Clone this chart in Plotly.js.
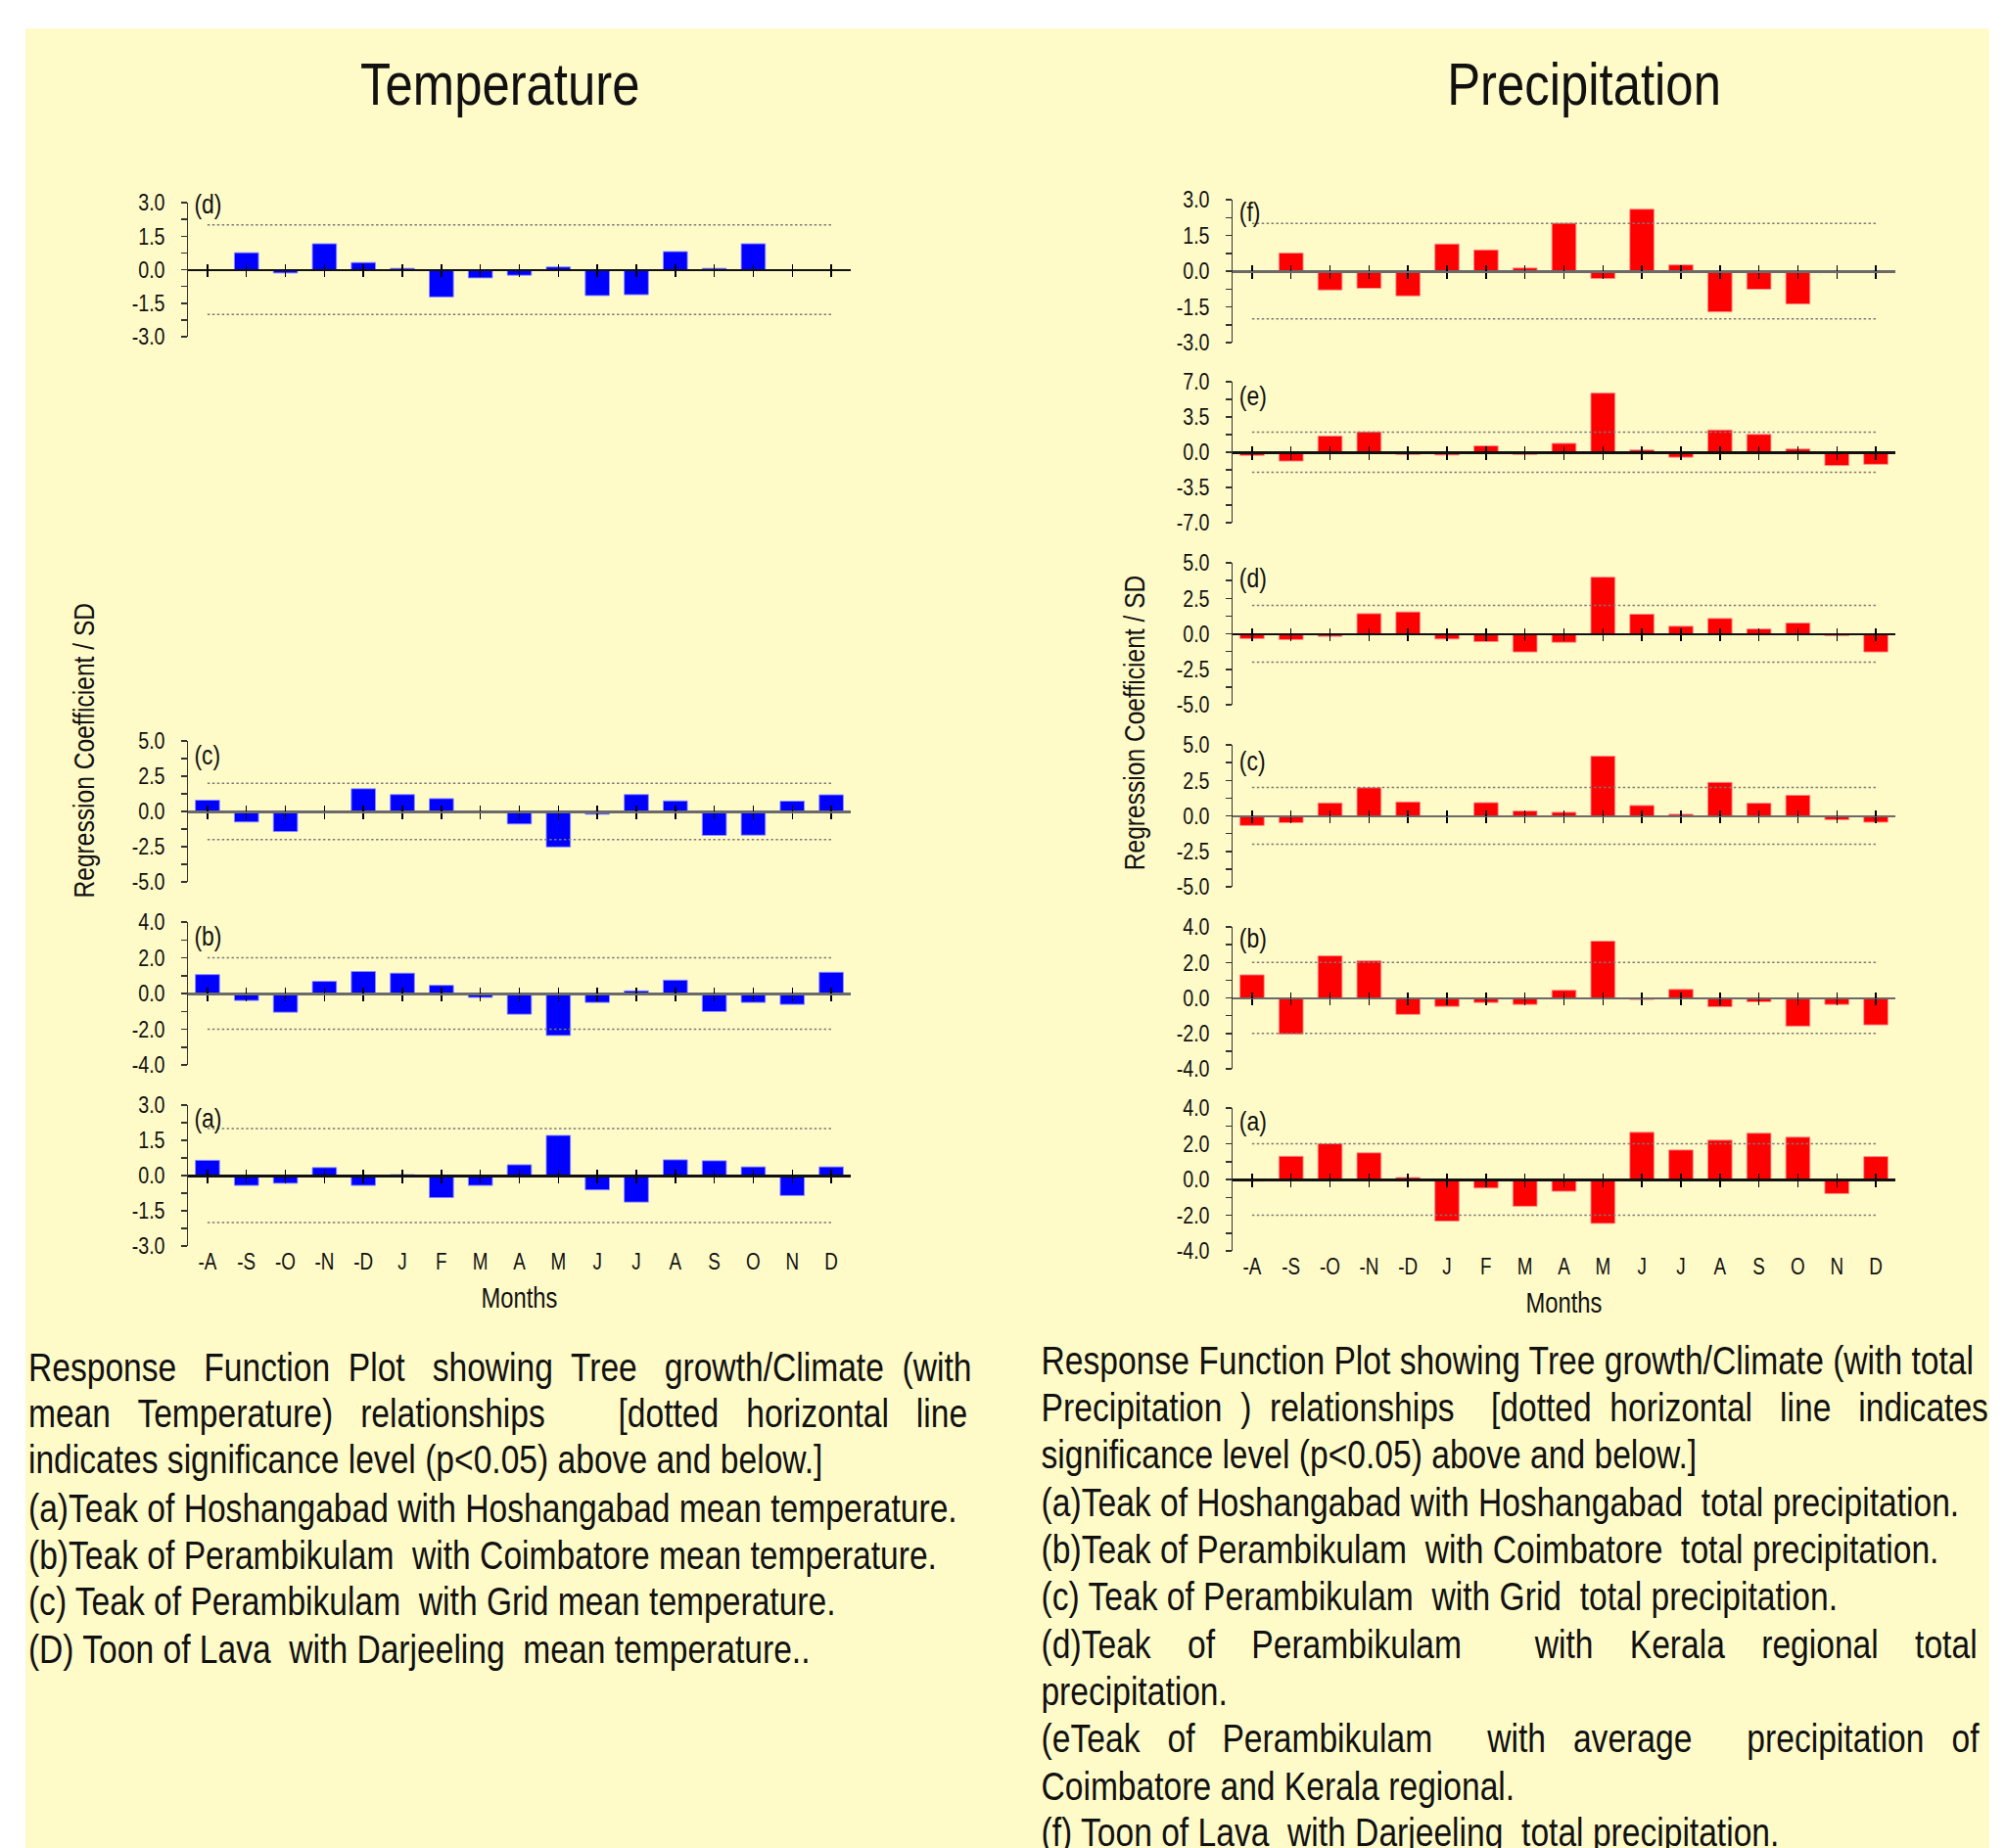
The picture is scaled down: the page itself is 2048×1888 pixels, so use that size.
<!DOCTYPE html>
<html><head><meta charset="utf-8">
<script src="https://cdn.plot.ly/plotly-3.0.1.min.js"></script>
<style>
html,body{margin:0;padding:0;background:#fff;overflow:hidden}
#wrap{width:2048px;height:1888px;overflow:hidden;position:relative}
#chart{height:1888px;transform-origin:0 0}
</style>
</head><body>
<div id="wrap"><div id="chart"></div></div>
<script>
// ---------------- DATA ----------------
const months = ["-A","-S","-O","-N","-D","J","F","M","A","M","J","J","A","S","O","N","D"];
const SIG = 2.0; // significance level (p<0.05)

// Temperature response functions
const tempD = [null, 0.76, -0.15, 1.16, 0.32, 0.06, -1.22, -0.37, -0.25, 0.12, -1.16, -1.12, 0.81, 0.06, 1.16, null, null];
const tempC = [0.80, -0.75, -1.43, -0.10, 1.61, 1.20, 0.91, -0.07, -0.89, -2.52, -0.20, 1.20, 0.75, -1.70, -1.68, 0.73, 1.18];
const tempB = [1.06, -0.39, -1.05, 0.68, 1.23, 1.14, 0.46, -0.22, -1.16, -2.35, -0.50, 0.15, 0.75, -1.01, -0.50, -0.61, 1.19];
const tempA = [0.65, -0.42, -0.33, 0.34, -0.42, 0.04, -0.94, -0.42, 0.46, 1.71, -0.61, -1.13, 0.67, 0.63, 0.37, -0.85, 0.37];

// Precipitation response functions
const precF = [null, 0.76, -0.79, -0.72, -1.04, 1.14, 0.89, 0.13, 2.01, -0.31, 2.60, 0.26, -1.71, -0.76, -1.38, null, null];
const precE = [-0.32, -0.88, 1.61, 2.02, -0.22, -0.28, 0.63, -0.22, 0.88, 5.87, 0.22, -0.50, 2.21, 1.77, 0.32, -1.32, -1.20];
const precD = [-0.34, -0.41, -0.18, 1.42, 1.54, -0.37, -0.55, -1.28, -0.60, 3.99, 1.38, 0.53, 1.08, 0.34, 0.76, -0.14, -1.28];
const precC = [-0.68, -0.48, 0.91, 1.98, 0.98, -0.05, 0.93, 0.34, 0.25, 4.20, 0.73, 0.11, 2.36, 0.89, 1.45, -0.27, -0.45];
const precB = [1.30, -2.04, 2.37, 2.09, -0.93, -0.48, -0.26, -0.37, 0.43, 3.20, -0.09, 0.48, -0.50, -0.22, -1.59, -0.37, -1.52];
const precA = [-0.09, 1.30, 2.00, 1.49, 0.11, -2.33, -0.48, -1.50, -0.66, -2.46, 2.64, 1.65, 2.20, 2.59, 2.37, -0.79, 1.28];

const tempCaption = [
  "Response   Function  Plot   showing  Tree   growth/Climate  (with",
  "mean   Temperature)   relationships        [dotted   horizontal   line",
  "indicates significance level (p<0.05) above and below.]",
  "(a)Teak of Hoshangabad with Hoshangabad mean temperature.",
  "(b)Teak of Perambikulam  with Coimbatore mean temperature.",
  "(c) Teak of Perambikulam  with Grid mean temperature.",
  "(D) Toon of Lava  with Darjeeling  mean temperature.."
];
const precCaption = [
  "Response Function Plot showing Tree growth/Climate (with total",
  "Precipitation  )  relationships    [dotted  horizontal   line   indicates",
  "significance level (p<0.05) above and below.]",
  "(a)Teak of Hoshangabad with Hoshangabad  total precipitation.",
  "(b)Teak of Perambikulam  with Coimbatore  total precipitation.",
  "(c) Teak of Perambikulam  with Grid  total precipitation.",
  "(d)Teak    of    Perambikulam        with    Kerala    regional    total",
  "precipitation.",
  "(eTeak   of   Perambikulam      with   average      precipitation   of",
  "Coimbatore and Kerala regional.",
  "(f) Toon of Lava  with Darjeeling  total precipitation."
];
const yTitle = 'Regression Coefficient / SD';

// ---------------- LAYOUT ----------------
const W = 2048, H = 1888;
const SX = 0.82;                 // horizontal condensing (narrow type look)
const W_IN = Math.round(W / SX); // plot width before condensing
const SXE = W / W_IN;
const chartDiv = document.getElementById('chart');
chartDiv.style.width = W_IN + 'px';
chartDiv.style.transform = 'scaleX(' + SXE + ')';

const FONT = '"Liberation Sans", Arial, Helvetica, sans-serif';
const BG = '#FFFBC8';
const xIdx = months.map((m, i) => i);

const TEMP_X = [192, 869], PREC_X = [1259, 1936];
const panels = [
  {vals: tempD, lim: 3, tag: "(d)", xr: TEMP_X, top: 207, bot: 344, dy: 2,  zc: '#111', col: '#0000FF', edge: '#9090FF'},
  {vals: tempC, lim: 5, tag: "(c)", xr: TEMP_X, top: 757, bot: 901, dy: 14, zc: '#6a6a6a', col: '#0000FF', edge: '#9090FF'},
  {vals: tempB, lim: 4, tag: "(b)", xr: TEMP_X, top: 942, bot: 1088, dy: 14, zc: '#6a6a6a', col: '#0000FF', edge: '#9090FF'},
  {vals: tempA, lim: 3, tag: "(a)", xr: TEMP_X, top: 1129, bot: 1273, dy: 13, zc: '#111', col: '#0000FF', edge: '#9090FF', bottom: true},
  {vals: precF, lim: 3, tag: "(f)", xr: PREC_X, top: 204, bot: 350, dy: 12, zc: '#6a6a6a', col: '#FF0000', edge: '#FF9090'},
  {vals: precE, lim: 7, tag: "(e)", xr: PREC_X, top: 390, bot: 534, dy: 14, zc: '#111', col: '#FF0000', edge: '#FF9090'},
  {vals: precD, lim: 5, tag: "(d)", xr: PREC_X, top: 575, bot: 720, dy: 15, zc: '#111', col: '#FF0000', edge: '#FF9090'},
  {vals: precC, lim: 5, tag: "(c)", xr: PREC_X, top: 761, bot: 906, dy: 16, zc: '#6a6a6a', col: '#FF0000', edge: '#FF9090'},
  {vals: precB, lim: 4, tag: "(b)", xr: PREC_X, top: 947, bot: 1092, dy: 12, zc: '#6a6a6a', col: '#FF0000', edge: '#FF9090'},
  {vals: precA, lim: 4, tag: "(a)", xr: PREC_X, top: 1132, bot: 1278, dy: 13, zc: '#111', col: '#FF0000', edge: '#FF9090', bottom: true}
];

function axName(letter, n) { return { id: letter + (n === 1 ? '' : n), key: letter + 'axis' + (n === 1 ? '' : n) }; }
const px = v => v / W, py = v => 1 - v / H;

const data = [];
const layout = {
  width: W_IN, height: H, autosize: false,
  margin: {l: 0, r: 0, t: 0, b: 0, pad: 0},
  paper_bgcolor: '#FFFFFF', plot_bgcolor: 'rgba(0,0,0,0)',
  showlegend: false, hovermode: false,
  font: {family: FONT, color: '#111', size: 22},
  shapes: [{type: 'rect', xref: 'paper', yref: 'paper', x0: px(26), x1: px(2032), y0: 0, y1: py(29),
            fillcolor: BG, line: {width: 0}, layer: 'below'}],
  annotations: []
};

panels.forEach((p, i) => {
  const xa = axName('x', 3 * i + 1), xb = axName('x', 3 * i + 2), xc = axName('x', 3 * i + 3);
  const ya = axName('y', i + 1);
  const dom = [px(p.xr[0]), px(p.xr[1])];
  const ydom = [py(p.bot), py(p.top)];
  const mid = (ydom[0] + ydom[1]) / 2;
  const xr = [-0.5, months.length - 0.5];

  layout[ya.key] = {
    domain: ydom, anchor: xa.id, range: [-p.lim, p.lim], fixedrange: true,
    tickvals: [-p.lim, -p.lim / 2, 0, p.lim / 2, p.lim],
    ticktext: [-p.lim, -p.lim / 2, 0, p.lim / 2, p.lim].map(v => v.toFixed(1)),
    ticks: 'outside', ticklen: 7, tickwidth: 1.5, tickcolor: '#333',
    minor: {tickvals: [-0.75 * p.lim, -0.25 * p.lim, 0.25 * p.lim, 0.75 * p.lim], ticks: 'outside', ticklen: 7, tickwidth: 1.5, tickcolor: '#333'},
    showline: true, linecolor: '#333', linewidth: 1.8, showgrid: false, zeroline: false,
    tickfont: {family: FONT, size: 24, color: '#111'}, ticklabelstandoff: 15
  };
  layout[xa.key] = {
    domain: dom, anchor: ya.id, range: xr, fixedrange: true,
    tickvals: xIdx, ticktext: months, ticks: '', showline: false, showgrid: false, zeroline: false,
    showticklabels: !!p.bottom, tickfont: {family: FONT, size: 23, color: '#111'}
  };
  if (p.bottom) layout[xa.key].title = {text: 'Months', font: {family: FONT, size: 29, color: '#111'}, standoff: 14};
  layout[xb.key] = {
    overlaying: xa.id, anchor: 'free', position: mid, side: 'bottom', range: xr, fixedrange: true,
    tickvals: xIdx, ticks: 'outside', ticklen: 6, tickwidth: 1.8, tickcolor: '#000',
    showline: true, linecolor: p.zc, linewidth: 2.5, showgrid: false, zeroline: false, showticklabels: false
  };
  layout[xc.key] = {
    overlaying: xa.id, anchor: 'free', position: mid, side: 'bottom', range: xr, fixedrange: true,
    tickvals: xIdx, ticks: 'inside', ticklen: 6, tickwidth: 1.8, tickcolor: '#000',
    showline: false, showgrid: false, zeroline: false, showticklabels: false
  };

  data.push({type: 'bar', x: xIdx, y: p.vals, xaxis: xa.id, yaxis: ya.id, width: 0.62,
             marker: {color: p.col, line: {color: p.edge, width: 1}}});
  const ends = [xIdx[0], xIdx[xIdx.length - 1]];
  data.push({type: 'scatter', mode: 'lines', x: ends, y: [SIG, SIG], xaxis: xb.id, yaxis: ya.id,
             line: {color: '#7a7a7a', width: 1.5, dash: 'dot'}});
  data.push({type: 'scatter', mode: 'lines', x: ends, y: [-SIG, -SIG], xaxis: xc.id, yaxis: ya.id,
             line: {color: '#7a7a7a', width: 1.5, dash: 'dot'}});

  layout.annotations.push({text: p.tag, xref: 'paper', yref: 'paper', x: px(p.xr[0] + 5), y: py(p.top + p.dy),
    xanchor: 'left', yanchor: 'middle', showarrow: false, font: {family: FONT, size: 28, color: '#111'}});
});

// Titles
layout.annotations.push({text: 'Temperature', xref: 'paper', yref: 'paper', x: px(511), y: py(85),
  xanchor: 'center', yanchor: 'middle', showarrow: false, font: {family: FONT, size: 62, color: '#111'}});
layout.annotations.push({text: 'Precipitation', xref: 'paper', yref: 'paper', x: px(1618), y: py(85),
  xanchor: 'center', yanchor: 'middle', showarrow: false, font: {family: FONT, size: 62, color: '#111'}});
// Y axis titles
layout.annotations.push({text: yTitle, xref: 'paper', yref: 'paper', x: px(85), y: py(767),
  xanchor: 'center', yanchor: 'middle', textangle: -90, showarrow: false, font: {family: FONT, size: 30, color: '#111'}});
layout.annotations.push({text: yTitle, xref: 'paper', yref: 'paper', x: px(1158), y: py(738),
  xanchor: 'center', yanchor: 'middle', textangle: -90, showarrow: false, font: {family: FONT, size: 30, color: '#111'}});

// Captions
const tempCapY = [1397, 1444, 1491, 1541, 1589, 1636, 1685];
const precCapY = [1390, 1438, 1486, 1535, 1583, 1631, 1680, 1728, 1776, 1825, 1872];
tempCaption.forEach((t, k) => layout.annotations.push({text: t, xref: 'paper', yref: 'paper', x: px(27), y: py(tempCapY[k]),
  xanchor: 'left', yanchor: 'middle', showarrow: false, font: {family: FONT, size: 41, color: '#111'}}));
precCaption.forEach((t, k) => layout.annotations.push({text: t, xref: 'paper', yref: 'paper', x: px(1062), y: py(precCapY[k]),
  xanchor: 'left', yanchor: 'middle', showarrow: false, font: {family: FONT, size: 41, color: '#111'}}));

Plotly.newPlot('chart', data, layout, {staticPlot: true, displayModeBar: false}).then(gd => {
  // rotated axis titles: condense along their own length instead of across it
  try {
    gd.querySelectorAll('g.annotation').forEach(g => {
      const t = g.querySelector('text.annotation-text');
      if (!t || t.textContent !== yTitle) return;
      const parent = g.parentNode;
      const r = g.getBoundingClientRect();
      const m = parent.getScreenCTM().inverse();
      const pt = gd.querySelector('svg').createSVGPoint();
      pt.x = r.left + r.width / 2; pt.y = r.top + r.height / 2;
      const c = pt.matrixTransform(m);
      const cur = g.getAttribute('transform') || '';
      g.setAttribute('transform', 'translate(' + c.x + ',' + c.y + ') scale(' + (1 / SXE) + ',' + SXE + ') translate(' + (-c.x) + ',' + (-c.y) + ') ' + cur);
    });
  } catch (e) {}
});
</script>
</body></html>
